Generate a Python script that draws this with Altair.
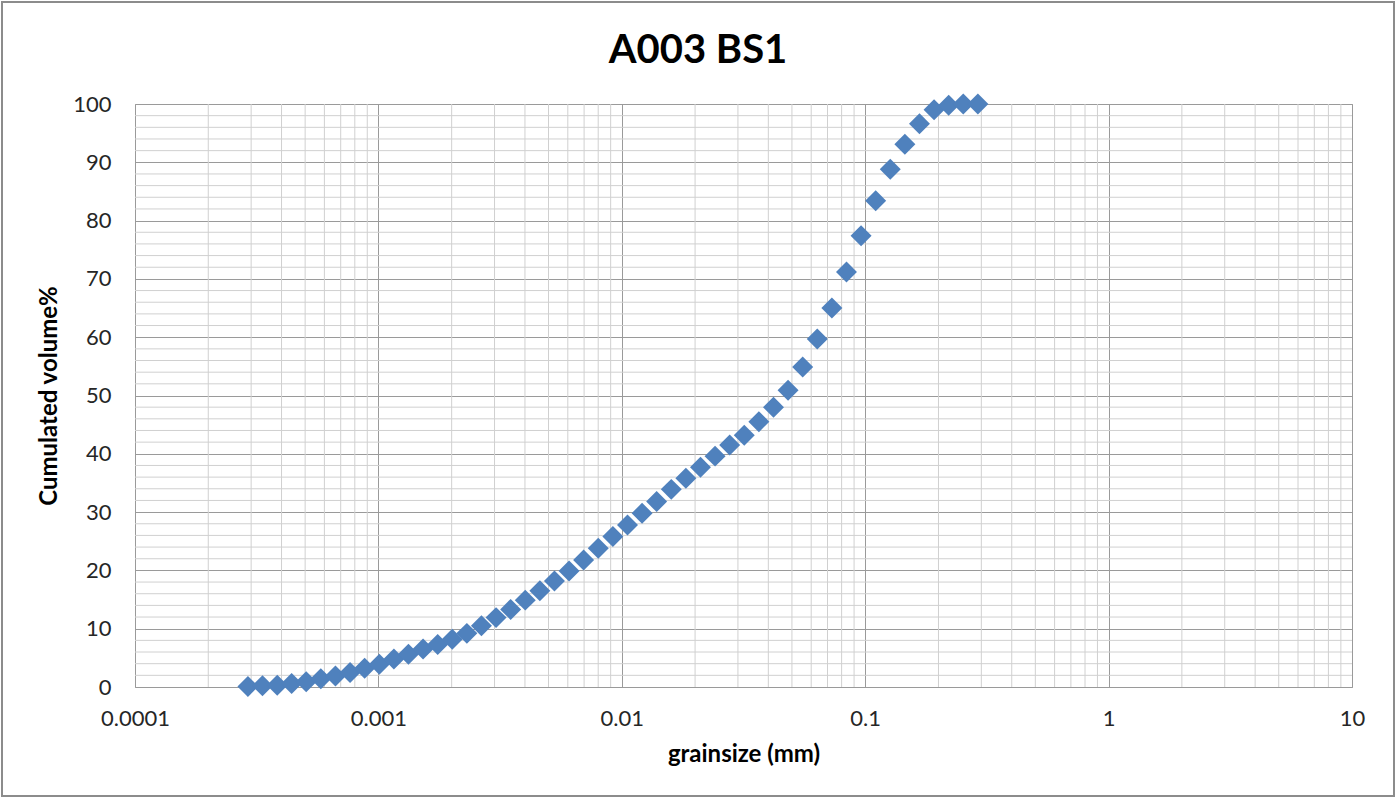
import altair as alt
import pandas as pd

grain_mm = [
    0.000291, 0.000334, 0.000384, 0.000440, 0.000505, 0.000580, 0.000666, 0.000765,
    0.000878, 0.001009, 0.001158, 0.001329, 0.001526, 0.001752, 0.002011, 0.002309,
    0.002651, 0.003044, 0.003494, 0.004012, 0.004606, 0.005288, 0.006072, 0.006970,
    0.008003, 0.009191, 0.010553, 0.012116, 0.013906, 0.015969, 0.018334, 0.021050,
    0.024168, 0.027745, 0.031856, 0.036575, 0.041993, 0.048212, 0.055350, 0.063548,
    0.072961, 0.083770, 0.096180, 0.11041, 0.12677, 0.14555, 0.16711, 0.19187,
    0.22025, 0.25288, 0.29035,
]
# cumulated volume % of each class
cum_volume = [
    0.1, 0.2, 0.3, 0.6, 0.9, 1.4, 1.9, 2.5,
    3.2, 3.9, 4.8, 5.6, 6.5, 7.3, 8.2, 9.2,
    10.5, 11.9, 13.3, 14.9, 16.5, 18.2, 19.9, 21.8,
    23.8, 25.8, 27.8, 29.8, 31.8, 33.9, 35.8, 37.7,
    39.6, 41.5, 43.2, 45.5, 48.0, 50.9, 54.9, 59.7,
    65.0, 71.2, 77.4, 83.4, 88.8, 93.1, 96.6, 99.0,
    99.8, 100.0, 100.0,
]

chart_title = ["A003 BS1"]
x_major_ticks = [0.0001, 0.001, 0.01, 0.1, 1, 10]
x_minor_lines = [
    0.0002, 0.0003, 0.0004, 0.0005, 0.0006, 0.0007, 0.0008, 0.0009,
    0.002, 0.003, 0.004, 0.005, 0.006, 0.007, 0.008, 0.009,
    0.02, 0.03, 0.04, 0.05, 0.06, 0.07, 0.08, 0.09,
    0.2, 0.3, 0.4, 0.5, 0.6, 0.7, 0.8, 0.9,
    2, 3, 4, 5, 6, 7, 8, 9,
]
y_major_ticks = [0, 10, 20, 30, 40, 50, 60, 70, 80, 90, 100]
y_minor_lines = [
    2, 4, 6, 8, 12, 14, 16, 18, 22, 24, 26, 28, 32, 34, 36, 38,
    42, 44, 46, 48, 52, 54, 56, 58, 62, 64, 66, 68, 72, 74, 76, 78,
    82, 84, 86, 88, 92, 94, 96, 98,
]

FONT = "Lato"
MINOR = "#d0d0d0"
MAJOR = "#9a9a9a"
W, H = 1217, 583

df = pd.DataFrame({"size": grain_mm, "vol": cum_volume})

xscale = alt.Scale(type="log", domain=[0.0001, 10], nice=False)
yscale = alt.Scale(domain=[0, 100], nice=False, zero=False)

x_axis = alt.Axis(
    title="grainsize (mm)",
    values=x_major_ticks,
    format="~g",
    grid=True,
    gridColor=MAJOR,
    gridWidth=1,
    ticks=False,
    tickSize=0,
    domain=False,
    labelFlush=False,
    labelOverlap=False,
    labelPadding=21,
    labelFont=FONT,
    labelFontSize=22,
    labelColor="#262626",
    titleFont=FONT,
    titleFontSize=24,
    titleFontWeight="bold",
    titleColor="#000000",
    titlePadding=13,
)
y_axis = alt.Axis(
    title="Cumulated volume%",
    values=y_major_ticks,
    grid=True,
    gridColor=MAJOR,
    gridWidth=1,
    ticks=False,
    tickSize=0,
    domain=False,
    labelFlush=False,
    labelOverlap=False,
    labelPadding=24,
    labelFont=FONT,
    labelFontSize=22,
    labelColor="#262626",
    titleFont=FONT,
    titleFontSize=24,
    titleFontWeight="bold",
    titleColor="#000000",
    titlePadding=11,
)

minor_x = alt.Chart(pd.DataFrame({"x": x_minor_lines})).mark_rule(
    color=MINOR, strokeWidth=1
).encode(x=alt.X("x:Q", scale=xscale, axis=x_axis))

minor_y = alt.Chart(pd.DataFrame({"y": y_minor_lines})).mark_rule(
    color=MINOR, strokeWidth=1
).encode(y=alt.Y("y:Q", scale=yscale, axis=y_axis))

points = alt.Chart(df).mark_point(
    shape="diamond", filled=True, size=440, color="#4F81BD", opacity=1, clip=False
).encode(
    x=alt.X("size:Q", scale=xscale, axis=x_axis),
    y=alt.Y("vol:Q", scale=yscale, axis=y_axis),
)

frame = alt.Chart(pd.DataFrame({"a": [0]})).mark_rect(
    filled=False, stroke="#8c8c8c", strokeWidth=2, clip=False
).encode(
    x=alt.value(-133), x2=alt.value(1259), y=alt.value(-102), y2=alt.value(692)
)

title = alt.Chart(pd.DataFrame({"t": chart_title})).mark_text(
    font=FONT, fontSize=40, fontWeight="bold", color="#000000",
    align="center", baseline="alphabetic", clip=False
).encode(text="t:N", x=alt.value(563), y=alt.value(-41))

chart = alt.layer(minor_x, minor_y, points, frame, title).properties(
    width=W,
    height=H,
    padding=1,
    background="white",
).configure_view(stroke="#a6a6a6", strokeWidth=1)

chart.save("out.html", embed_options={"renderer": "svg", "actions": False})
